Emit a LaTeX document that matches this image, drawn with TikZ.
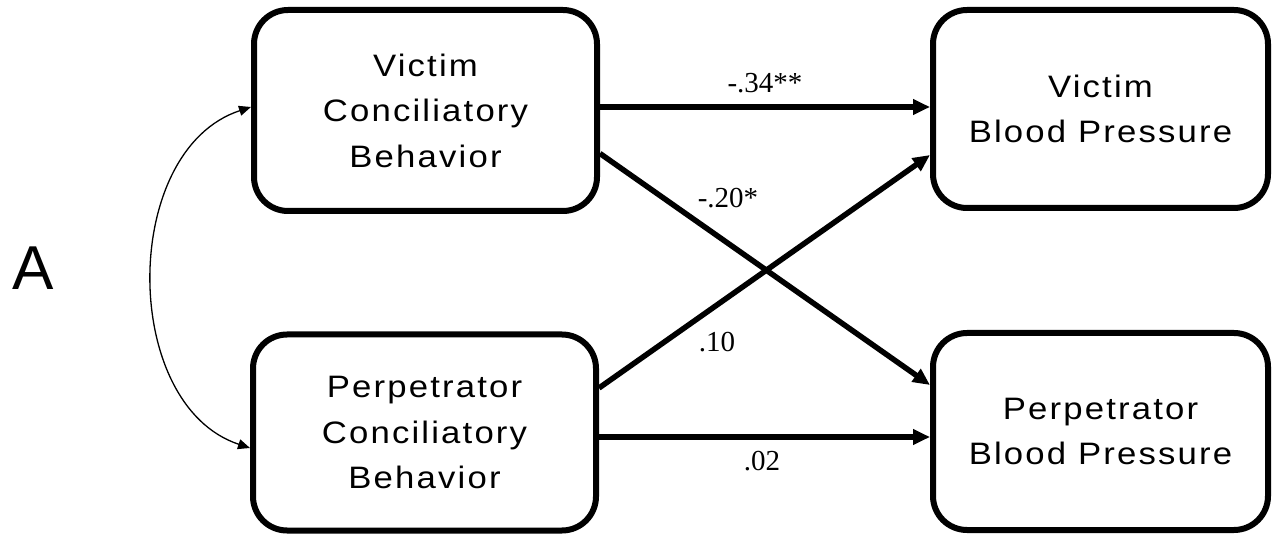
\documentclass[tikz,border=0pt]{standalone}
\usepackage{fontspec}
\setmainfont{Liberation Serif}
\newfontfamily\boxfont[LetterSpace=7,FakeStretch=1.12]{Liberation Sans}
\newfontfamily\lblfont{Liberation Sans}
\usetikzlibrary{arrows.meta}
\begin{document}
\begin{tikzpicture}[x=1pt,y=-1pt,
  varbox/.style={draw, line width=6pt, rounded corners=34pt, inner sep=0pt,
    align=center, font=\boxfont\fontsize{31}{45.5}\selectfont},
  path/.style={line width=5.5pt, -{Triangle[length=17pt,width=15pt]}},
  cov/.style={line width=1.3pt, {Triangle[length=12pt,width=10pt]}-{Triangle[length=12pt,width=10pt]}},
  coef/.style={anchor=base, font=\fontsize{29}{30}\selectfont, inner sep=0pt}]
\useasboundingbox (0,0) rectangle (1272,537);
\node[varbox, minimum width=343pt, minimum height=201pt] (VCB) at (425.5,110.5) {Victim\\Conciliatory\\Behavior};
\node[varbox, minimum width=343pt, minimum height=196pt] (PCB) at (424.5,432.5) {Perpetrator\\Conciliatory\\Behavior};
\node[varbox, minimum width=335pt, minimum height=198pt] (VBP) at (1100.5,109) {Victim\\Blood Pressure};
\node[varbox, minimum width=335pt, minimum height=197pt] (PBP) at (1100.5,431.5) {Perpetrator\\Blood Pressure};
\node[anchor=base, font=\lblfont\fontsize{62}{62}\selectfont, inner sep=0pt] (A) at (33,290) {A};
\draw[path] ([yshift=3.5pt]VCB.east) -- ([yshift=3.5pt]VCB.east -| VBP.west);
\draw[path] ([yshift=-4.5pt]PCB.east) -- ([yshift=-4.5pt]PCB.east -| PBP.west);
\draw[path] ([yshift=-43pt]VCB.east) -- ([yshift=46.5pt]PBP.west);
\draw[path] ([yshift=44.5pt]PCB.east) -- ([yshift=-46pt]VBP.west);
\draw[cov] ([yshift=3.5pt]VCB.west) .. controls (120,150) and (120,405) .. ([yshift=-15.5pt]PCB.west);
\node[coef] (c1) at (765,93) {-.34**};
\node[coef] (c2) at (728,208) {-.20*};
\node[coef] (c3) at (717,352) {.10};
\node[coef] (c4) at (762,470) {.02};
\end{tikzpicture}
\end{document}
